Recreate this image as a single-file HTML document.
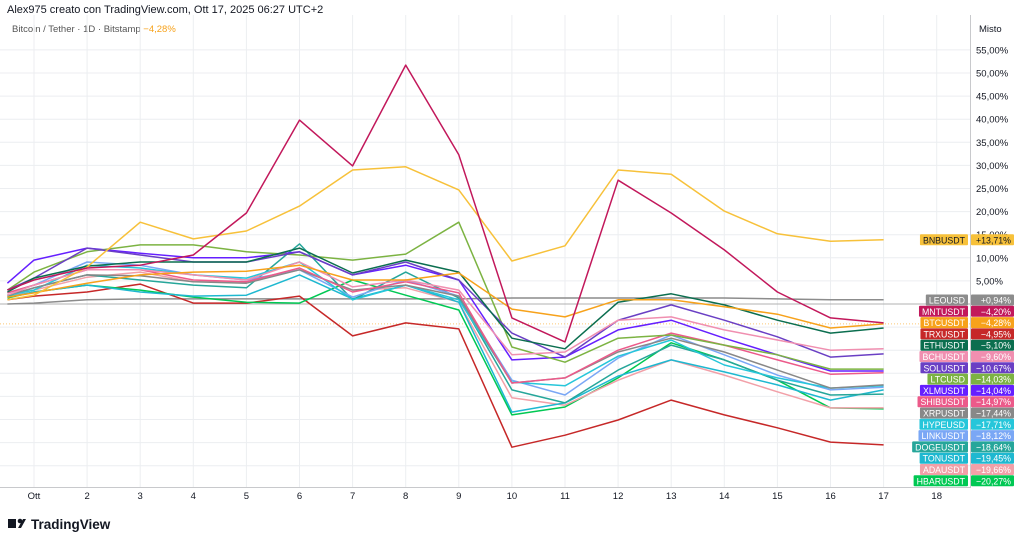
<!DOCTYPE html>
<html><head><meta charset="utf-8">
<style>
body{margin:0;background:#fff;width:1024px;height:545px;overflow:hidden;font-family:"Liberation Sans",sans-serif;}
svg text{font-family:"Liberation Sans",sans-serif;}
</style></head>
<body>
<svg id="c" width="1024" height="545">
<text x="7" y="13" font-size="11" fill="#131722">Alex975 creato con TradingView.com, Ott 17, 2025 06:27 UTC+2</text>
<text x="12" y="32" font-size="9.5" fill="#555">Bitcoin / Tether · 1D · Bitstamp <tspan fill="#f7a21b">−4,28%</tspan></text>
<text x="979" y="32" font-size="9.5" fill="#131722">Misto</text>
<g id="grid"></g><g id="lines"></g><g id="axes"></g><g id="tags"></g>
<g>
<rect x="8" y="519" width="8" height="9" fill="#131722"/><circle cx="20" cy="521" r="2.3" fill="#131722"/><path d="M18 528 L23 519 L26 519 L21 528 Z" fill="#131722"/>
<text x="31" y="529" font-size="13.5" font-weight="bold" fill="#131722">TradingView</text></g>
</svg>
<script>
const days=[0.5,1,2,3,4,5,6,7,8,9,10,11,12,13,14,15,16,17];
const xTicks=["Ott","2","3","4","5","6","7","8","9","10","11","12","13","14","15","16","17","18"];
const yTicks=[5,10,15,20,25,30,35,40,45,50,55];
const names=["BNBUSDT","LEOUSD","MNTUSDT","BTCUSDT","TRXUSDT","ETHUSDT","BCHUSDT","SOLUSDT","LTCUSD","XLMUSDT","SHIBUSDT","XRPUSDT","HYPEUSD","LINKUSDT","DOGEUSDT","TONUSDT","ADAUSDT","HBARUSDT"];
const lastLabels=["+13,71%","+0,94%","−4,20%","−4,28%","−4,95%","−5,10%","−9,60%","−10,67%","−14,03%","−14,04%","−14,97%","−17,44%","−17,71%","−18,12%","−18,64%","−19,45%","−19,66%","−20,27%"];
const colors=["#f7c13a","#8c8c8c","#c2185b","#f7a21b","#c62828","#0b6e4f","#f08fb0","#6a3fc4","#7cb342","#651fff","#ec5a8a","#888888","#26c6da","#7aa7f5","#26a69a","#1eb8d0","#f2a0a8","#00c853"];
const sBNB=[0.9,1.9,8.0,17.7,14.1,15.8,21.2,29.0,29.7,24.7,9.3,12.6,29.0,28.1,20.1,15.2,13.6,13.9];
const sLEO=[0,0.2,0.9,1.1,1.1,1.1,1.1,1.1,1.1,1.1,1.3,1.3,1.3,1.3,1.3,1.1,0.9,0.9];
const sMNT=[3.0,5.2,7.8,8.4,10.6,19.7,39.8,29.9,51.7,32.3,-3.0,-8.2,26.8,19.7,11.7,2.6,-3.0,-4.1];
const sBTC=[1.5,2.4,4.5,6.3,6.9,7.1,8.4,5.2,5.2,6.7,-1.1,-2.8,0.9,0.9,-0.6,-2.2,-5.2,-4.3];
const sTRX=[0.9,1.7,2.6,4.3,0.2,0.2,1.7,-6.9,-4.1,-5.4,-31.0,-28.4,-25.1,-20.8,-24.0,-26.8,-29.9,-30.5];
const sETH=[2.6,5.6,8.2,9.1,9.1,9.1,12.1,6.7,9.5,6.9,-7.4,-9.7,0.4,2.2,-0.2,-3.5,-6.3,-5.2];
const sBCH=[1.9,4.1,7.4,7.4,6.3,5.2,9.1,3.7,5.2,3.0,-11.0,-10.4,-3.5,-2.8,-5.6,-7.8,-10.0,-9.7];
const sSOL=[3.0,5.6,12.1,10.6,9.1,9.1,11.3,6.3,9.1,5.2,-6.3,-11.5,-3.5,-0.2,-3.5,-7.1,-11.5,-10.8];
const sLTC=[3.0,6.9,11.3,12.8,12.8,11.3,10.6,9.5,10.8,17.7,-9.3,-12.6,-7.4,-6.7,-8.9,-11.0,-14.1,-14.1];
const sXLM=[4.5,9.5,12.1,11.0,10.0,10.0,11.3,6.3,8.4,5.2,-12.1,-11.5,-5.6,-3.5,-7.4,-11.0,-14.5,-14.5];
const sSHIB=[2.4,4.1,7.4,7.4,5.2,4.8,7.8,2.6,4.8,2.4,-17.1,-16.0,-10.0,-6.3,-8.9,-12.1,-15.2,-14.9];
const sXRP=[1.9,3.5,6.3,6.1,4.8,4.5,7.4,3.0,4.1,1.7,-17.1,-16.0,-10.4,-7.4,-10.4,-14.3,-18.2,-17.5];
const sHYPE=[1.9,3.0,8.4,7.8,6.3,5.6,9.1,0.9,4.1,0.9,-16.9,-17.7,-11.3,-7.8,-13.2,-16.0,-18.2,-17.7];
const sLINK=[2.4,4.1,9.1,8.4,6.3,5.2,7.4,1.5,5.2,1.7,-16.5,-19.7,-11.7,-6.7,-11.0,-15.4,-18.6,-18.0];
const sDOGE=[1.7,3.5,6.3,5.2,4.1,3.5,13.0,0.9,6.9,1.3,-18.6,-21.4,-14.3,-8.9,-12.1,-16.5,-19.7,-19.5];
const sTON=[1.5,2.6,4.1,2.6,1.7,1.9,6.3,1.1,4.1,0.4,-23.4,-21.4,-15.6,-12.1,-14.7,-17.5,-20.8,-18.6];
const sADA=[1.7,3.0,5.8,6.9,4.8,4.8,7.4,3.0,3.5,0.4,-20.3,-21.9,-16.5,-12.1,-15.4,-19.0,-22.5,-22.5];
const sHBAR=[1.3,2.6,4.1,3.0,1.5,0.4,0.2,5.2,1.9,-1.3,-24.0,-22.3,-16.0,-8.4,-12.1,-16.5,-22.5,-22.7];
const series=[sBNB,sLEO,sMNT,sBTC,sTRX,sETH,sBCH,sSOL,sLTC,sXLM,sSHIB,sXRP,sHYPE,sLINK,sDOGE,sTON,sADA,sHBAR];
const drawOrder=[1,4,17,16,15,14,13,12,11,10,9,8,7,6,5,3,0,2];
const NS="http://www.w3.org/2000/svg";
const X=d=>34+(d-1)*53.1;
const Y=v=>304-v*4.62;
function mk(t,a,p){const e=document.createElementNS(NS,t);for(const k in a)e.setAttribute(k,a[k]);p.appendChild(e);return e;}
const grid=document.getElementById('grid'),lines=document.getElementById('lines'),axes=document.getElementById('axes'),tags=document.getElementById('tags');
for(let v=-35;v<=55;v+=5){const y=Y(v);if(y<15||y>487)continue;
 const g=mk('line',{x1:0,x2:970,y1:y,y2:y,stroke:'#eceef1','stroke-width':1},grid);
 
 }
xTicks.forEach((t,i)=>{const x=X(i+1);
 const g=mk('line',{x1:x,x2:x,y1:15,y2:487,stroke:'#eceef1','stroke-width':1},grid);
 
 
 const tx=mk('text',{x:x,y:499,'font-size':9.5,fill:'#131722','text-anchor':'middle'},axes);tx.textContent=t;
 
 });
yTicks.forEach(v=>{const tx=mk('text',{x:976,y:Y(v)+3.5,'font-size':9.5,fill:'#131722'},axes);
 tx.textContent=v+',00%';
 
 });
const zl=mk('line',{x1:0,x2:970,y1:Y(0),y2:Y(0),stroke:'#b0b0b0','stroke-width':1},grid);


const pl=mk('line',{x1:0,x2:970,y1:Y(sBTC[sBTC.length-1]),y2:Y(sBTC[sBTC.length-1]),stroke:'#f7a21b','stroke-width':1,'stroke-dasharray':'1 2',opacity:0.6},grid);


mk('line',{x1:970.5,x2:970.5,y1:15,y2:488,stroke:'#c8c9cc'},axes);
mk('line',{x1:0,x2:970,y1:487.5,y2:487.5,stroke:'#c8c9cc'},axes);
drawOrder.forEach(i=>{const s=series[i];
 const p=mk('polyline',{points:s.map((v,j)=>X(days[j]).toFixed(1)+','+Y(v).toFixed(1)).join(' '),fill:'none',stroke:colors[i],'stroke-width':1.5,'stroke-linejoin':'round'},lines);
 
 });
names.forEach((n,i)=>{const cy=i==0?Y(sBNB[sBNB.length-1]):300+(i-1)*11.3;
 const g=mk('g',{},tags);
 
 
 const r1=mk('rect',{x:930,y:cy-5.5,width:38,height:11,fill:colors[i],rx:1},g);
 mk('rect',{x:971,y:cy-5.5,width:43,height:11,fill:colors[i],rx:1},g);
 const dark=(i==0);
 const t1=mk('text',{x:965,y:cy+3.5,'font-size':8.8,fill:dark?'#131722':'#fff','text-anchor':'end'},g);t1.textContent=n;
 const w=t1.getComputedTextLength()+6;
 r1.setAttribute('x',968-w);r1.setAttribute('width',w);
 const t2=mk('text',{x:1011,y:cy+3.5,'font-size':8.8,fill:dark?'#131722':'#fff','text-anchor':'end'},g);t2.textContent=lastLabels[i];});
</script>
</body></html>
